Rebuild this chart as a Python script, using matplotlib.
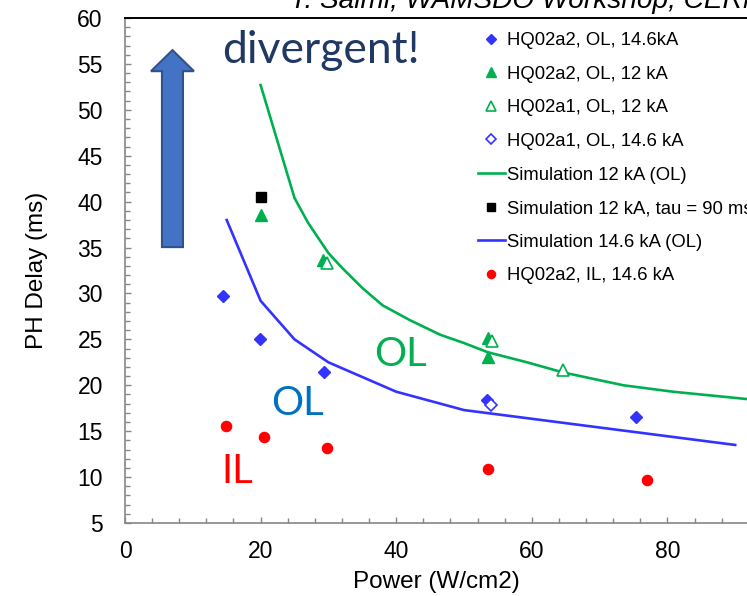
import matplotlib
matplotlib.use('Agg')
import matplotlib.pyplot as plt
from matplotlib.patches import FancyArrow
from matplotlib.ticker import MultipleLocator

plt.rcParams['font.family'] = ['Liberation Sans', 'DejaVu Sans']

# ---- data ----
a2_ol_146_x = [14.5, 19.9, 29.4, 53.4, 75.4]
a2_ol_146_y = [29.7, 25.0, 21.4, 18.4, 16.5]
a2_ol_12_x = [20.1, 29.2, 53.5, 53.5]
a2_ol_12_y = [38.5, 33.6, 25.2, 23.1]
a1_ol_12_x = [29.8, 54.1, 64.6]
a1_ol_12_y = [33.3, 24.8, 21.7]
a1_ol_146_x = [54.0]
a1_ol_146_y = [17.8]
sim12_x = [20, 25, 27, 30, 32, 35, 38, 42, 46.5, 50, 53.5, 59.3, 64.6, 73.5, 80.8, 91.7, 95]
sim12_y = [52.7, 40.4, 37.7, 34.4, 32.8, 30.6, 28.7, 27.1, 25.5, 24.6, 23.6, 22.5, 21.4, 20.0, 19.3, 18.5, 18.2]
tau_x = [20.1]
tau_y = [40.5]
sim146_x = [15, 20, 25, 30, 40, 50, 90]
sim146_y = [38.0, 29.2, 25.0, 22.5, 19.3, 17.3, 13.5]
il_x = [14.9, 20.5, 29.8, 53.5, 77.0]
il_y = [15.6, 14.4, 13.2, 10.9, 9.7]

labels = ['HQ02a2, OL, 14.6kA', 'HQ02a2, OL, 12 kA', 'HQ02a1, OL, 12 kA',
          'HQ02a1, OL, 14.6 kA', 'Simulation 12 kA (OL)', 'Simulation 12 kA, tau = 90 ms',
          'Simulation 14.6 kA (OL)', 'HQ02a2, IL, 14.6 kA']

BLUE = '#3333FF'
GREEN = '#00B050'
RED = '#FF0000'

fig = plt.figure(figsize=(7.47, 5.96), dpi=100)
ax = fig.add_axes([125/747, 73/596, 622/747, 505/596])

h1, = ax.plot(a2_ol_146_x, a2_ol_146_y, 'D', color=BLUE, ms=6.5, ls='none', zorder=4)
h2, = ax.plot(a2_ol_12_x, a2_ol_12_y, '^', color=GREEN, ms=8.5, ls='none', zorder=4)
h3, = ax.plot(a1_ol_12_x, a1_ol_12_y, '^', mfc='white', mec=GREEN, mew=1.2, ms=8.5, ls='none', zorder=5)
h4, = ax.plot(a1_ol_146_x, a1_ol_146_y, 'D', mfc='white', mec=BLUE, mew=1.2, ms=6.5, ls='none', zorder=5)
h5, = ax.plot(sim12_x, sim12_y, '-', color=GREEN, lw=1.9, zorder=3)
h6, = ax.plot(tau_x, tau_y, 's', color='black', ms=7.2, ls='none', zorder=4)
h7, = ax.plot(sim146_x, sim146_y, '-', color=BLUE, lw=1.9, zorder=3)
h8, = ax.plot(il_x, il_y, 'o', color=RED, ms=7.3, ls='none', zorder=4)

ax.set_xlim(0, 91.74)
ax.set_ylim(5, 60)
ax.xaxis.set_major_locator(MultipleLocator(20))
ax.xaxis.set_minor_locator(MultipleLocator(4))
ax.yaxis.set_major_locator(MultipleLocator(5))
ax.yaxis.set_minor_locator(MultipleLocator(1))

ax.spines['right'].set_visible(False)
ax.spines['top'].set_color('black')
ax.spines['top'].set_linewidth(1.4)
for s in ('left', 'bottom'):
    ax.spines[s].set_color('#868686')
    ax.spines[s].set_linewidth(1.2)

ax.tick_params(which='both', direction='in', color='#868686', width=1)
ax.tick_params(which='major', length=4.5, labelsize=16.5)
ax.tick_params(which='minor', length=3.8)
ax.tick_params(axis='y', which='major', pad=16)
ax.tick_params(axis='x', which='major', pad=12)

ax.set_xlabel('Power (W/cm2)', fontsize=17.5, labelpad=6)
ax.set_ylabel('PH Delay (ms)', fontsize=17.5, labelpad=21)

# arrow
arr = FancyArrow(7.0, 35.05, 0, 56.5 - 35.05, width=3.1, head_width=6.34, head_length=2.29,
                 length_includes_head=True, facecolor='#4472C4', edgecolor='#2F528F', lw=1.5, zorder=2)
ax.add_patch(arr)

fam = ['Lato', 'DejaVu Sans']
ax.text(28.9, 55.1, 'divergent!', fontsize=32, color='#203864', family=fam,
        ha='center', va='baseline')
ax.text(40.6, 22.1, 'OL', fontsize=29, color=GREEN, family=fam, ha='center', va='baseline')
ax.text(25.4, 16.75, 'OL', fontsize=29, color='#0070C0', family=fam, ha='center', va='baseline')
ax.text(16.5, 9.35, 'IL', fontsize=29, color=RED, family=fam, ha='center', va='baseline')

fig.text(290/747, 1 - 8/596, 'T. Salmi, WAMSDO Workshop, CERN', style='italic', fontsize=20.2,
         ha='left', va='baseline')

leg = ax.legend([h1, h2, h3, h4, h5, h6, h7, h8], labels, loc='upper left',
                bbox_to_anchor=(478/747, 1 - 32/596), bbox_transform=fig.transFigure,
                frameon=False, prop={'family': 'Liberation Sans', 'size': 13.3},
                handlelength=1.46, handletextpad=0.1,
                labelspacing=0.9, borderpad=0, borderaxespad=0, markerscale=0.8)

fig.savefig('out.png', dpi=100)
